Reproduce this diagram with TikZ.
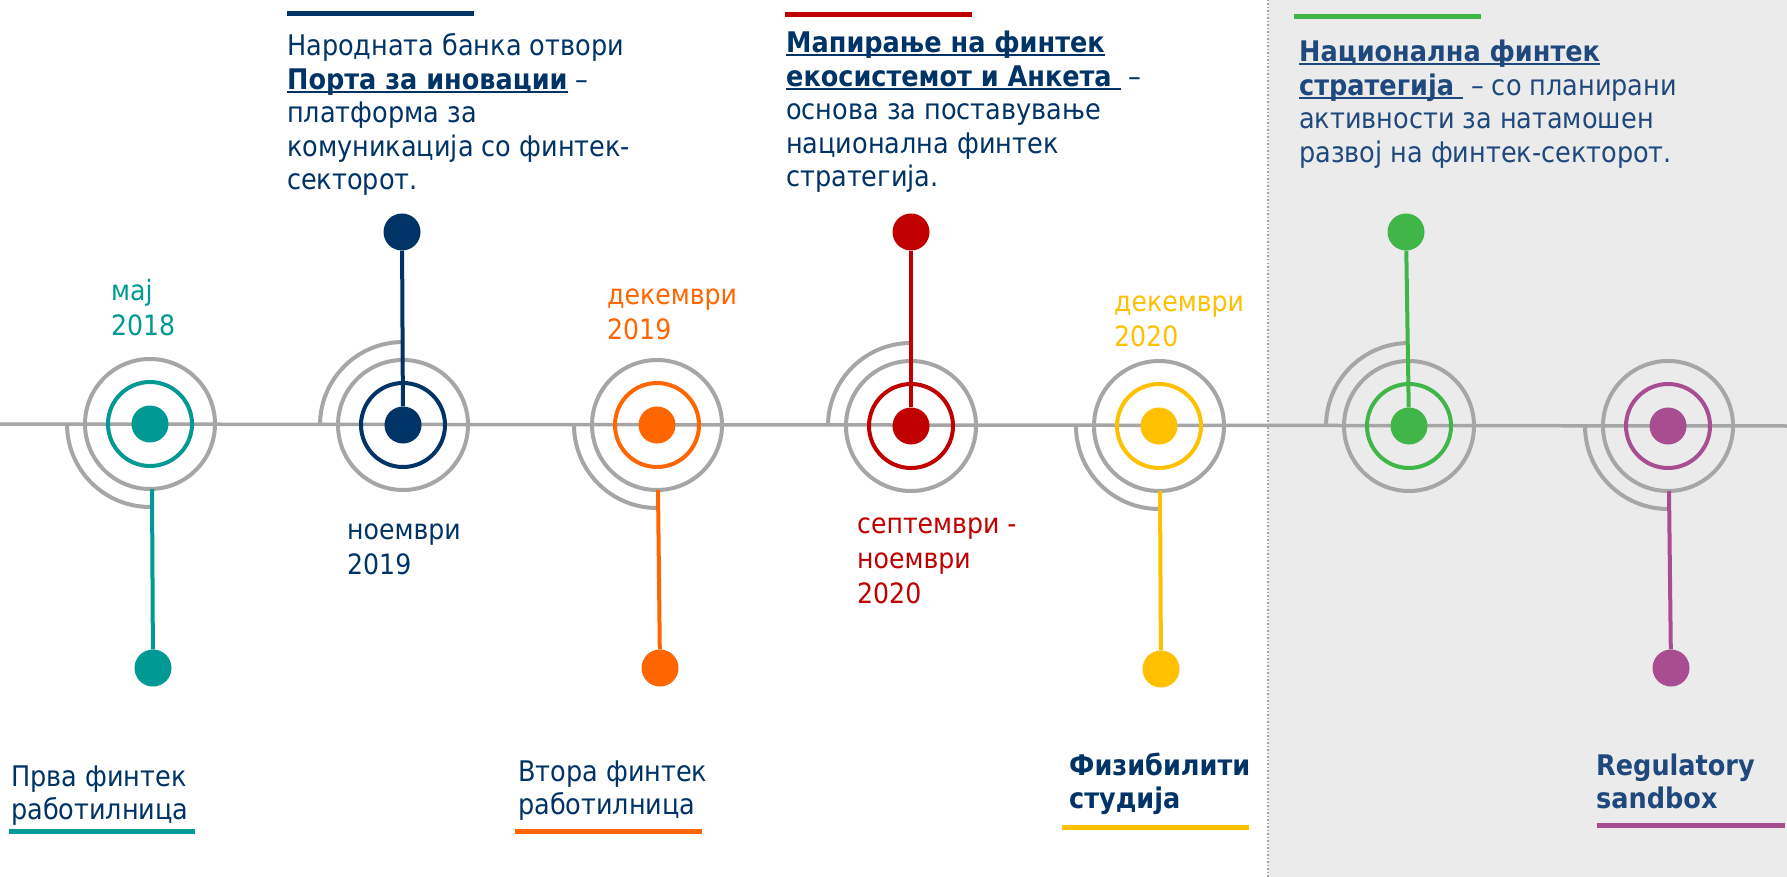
\documentclass[tikz,border=0pt]{standalone}
\usepackage{fontspec}
\usetikzlibrary{calc}
\setmainfont{DejaVu Sans Condensed}
\definecolor{navy}{RGB}{0,51,102}
\definecolor{navyb}{RGB}{31,73,125}
\definecolor{tealc}{RGB}{0,153,148}
\definecolor{orangec}{RGB}{255,102,0}
\definecolor{redc}{RGB}{192,0,0}
\definecolor{yellowc}{RGB}{255,192,0}
\definecolor{greenc}{RGB}{64,182,72}
\definecolor{purplec}{RGB}{168,78,144}
\definecolor{grayc}{RGB}{166,166,166}
\definecolor{bgc}{RGB}{235,235,235}
\newcommand{\ulx}[1]{\setbox0=\hbox{#1}\rlap{\rule[-3.5pt]{\wd0}{2pt}}\box0\relax}
\newcommand{\lines}[1]{\begin{tabular}[t]{@{}l@{}}#1\end{tabular}}
\tikzset{
  txt/.style={anchor=base west, inner sep=0pt, font=\fontsize{28.4}{33.4}\selectfont},
  datetxt/.style={anchor=base west, inner sep=0pt, font=\fontsize{28}{35}\selectfont},
  cdot/.style={circle, fill=#1, inner sep=0pt, minimum size=37pt},
  edot/.style={circle, fill=#1, inner sep=0pt, minimum size=37pt},
  cring/.style={draw=#1, line width=4pt},
  gring/.style={draw=grayc, line width=4pt},
  stem/.style={draw=#1, line width=4pt},
  bar/.style={draw=#1, line width=5pt},
}
\begin{document}
\begin{tikzpicture}[x=1pt,y=-1pt]
\useasboundingbox (0,0) rectangle (1787,877);
\fill[white] (0,0) rectangle (1268,877);
\fill[bgc] (1268,0) rectangle (1787,877);
\draw[grayc, line width=1.5pt, dotted] (1268,0) -- (1268,877);
% timeline
\draw[grayc, line width=3.5pt] (0,424) -- (1787,426);
% centers
\coordinate (c1) at (150,424);
\coordinate (c2) at (403,425);
\coordinate (c3) at (657,425);
\coordinate (c4) at (911,426);
\coordinate (c5) at (1159,426);
\coordinate (c6) at (1409,426);
\coordinate (c7) at (1668,426);
% gray rings
\foreach \c in {c1,c2,c3,c4,c5,c6,c7} {
  \draw[gring] (\c) circle[radius=65];
}
% outer quarter arcs: bottom-left for 1,3,5,7; top-left for 2,4,6
\foreach \c in {c1,c3,c5,c7} {
  \draw[gring] ($(\c)+(-83,0)$) arc[start angle=180, end angle=90, radius=83];
}
\foreach \c in {c2,c4,c6} {
  \draw[gring] ($(\c)+(-83,0)$) arc[start angle=180, end angle=270, radius=83];
}
% colored rings
\draw[cring=tealc] (c1) circle[radius=42];
\draw[cring=navy] (c2) circle[radius=42];
\draw[cring=orangec] (c3) circle[radius=42];
\draw[cring=redc] (c4) circle[radius=42];
\draw[cring=yellowc] (c5) circle[radius=42];
\draw[cring=greenc] (c6) circle[radius=42];
\draw[cring=purplec] (c7) circle[radius=42];
% center dots
\node[cdot=tealc] (d1) at (c1) {};
\node[cdot=navy] (d2) at (c2) {};
\node[cdot=orangec] (d3) at (c3) {};
\node[cdot=redc] (d4) at (c4) {};
\node[cdot=yellowc] (d5) at (c5) {};
\node[cdot=greenc] (d6) at (c6) {};
\node[cdot=purplec] (d7) at (c7) {};
% end dots
\node[edot=tealc] (e1) at (153,668) {};
\node[edot=navy] (e2) at (402,232) {};
\node[edot=orangec] (e3) at (660,668) {};
\node[edot=redc] (e4) at (911,232) {};
\node[edot=yellowc] (e5) at (1161,669) {};
\node[edot=greenc] (e6) at (1406,232) {};
\node[edot=purplec] (e7) at (1671,668) {};
% stem start points on outer gray ring
\coordinate (s1) at (152,489);
\coordinate (s3) at (658,490);
\coordinate (s5) at (1160,491);
\coordinate (s7) at (1669,491);
\draw[stem=tealc] (s1) -- (e1);
\draw[stem=navy] (e2) -- (d2);
\draw[stem=orangec] (s3) -- (e3);
\draw[stem=redc] (e4) -- (d4);
\draw[stem=yellowc] (s5) -- (e5);
\draw[stem=greenc] (e6) -- (d6);
\draw[stem=purplec] (s7) -- (e7);
% top bars
\draw[bar=navy] (287,14) -- (474,14);
\draw[bar=redc] (785,15) -- (972,15);
\draw[bar=greenc] (1294,17) -- (1481,17);
% bottom bars
\draw[bar=tealc] (9,831) -- (195,831);
\draw[bar=orangec] (515,831) -- (702,831);
\draw[bar=yellowc] (1062,827) -- (1249,827);
\draw[bar=purplec] (1597,825) -- (1785,825);
% top texts
\node[txt, text=navy] (t2) at (287,56) {\lines{Народната банка отвори\\
\ulx{\bfseries Порта за иновации} –\\
платформа за\\
комуникација со финтек-\\
секторот.}};
\node[txt, text=navy] (t4) at (786,53) {\lines{\ulx{\bfseries Мапирање на финтек}\\
\ulx{\bfseries екосистемот и Анкета\ } –\\
основа за поставување\\
национална финтек\\
стратегија.}};
\node[txt, text=navyb] (t6) at (1299,62) {\lines{\ulx{\bfseries Национална финтек}\\
\ulx{\bfseries стратегија\ } – со планирани\\
активности за натамошен\\
развој на финтек-секторот.}};
% dates
\node[datetxt, text=tealc] (m1) at (111,300) {\lines{мај\\2018}};
\node[datetxt, text=navy] (m2) at (347,539) {\lines{ноември\\2019}};
\node[datetxt, text=orangec] (m3) at (607,304) {\lines{декември\\2019}};
\node[datetxt, text=redc] (m4) at (857,533) {\lines{септември -\\ноември\\2020}};
\node[datetxt, text=yellowc] (m5) at (1114,311) {\lines{декември\\2020}};
% bottom labels
\node[txt, text=navy] (b1) at (11,786) {\lines{Прва финтек\\работилница}};
\node[txt, text=navy] (b3) at (518,781) {\lines{Втора финтек\\работилница}};
\node[txt, text=navy] (b5) at (1069,775) {\lines{\bfseries Физибилити\\\bfseries студија}};
\node[txt, text=navyb] (b7) at (1596,775) {\lines{\bfseries Regulatory\\\bfseries sandbox}};
\end{tikzpicture}
\end{document}
